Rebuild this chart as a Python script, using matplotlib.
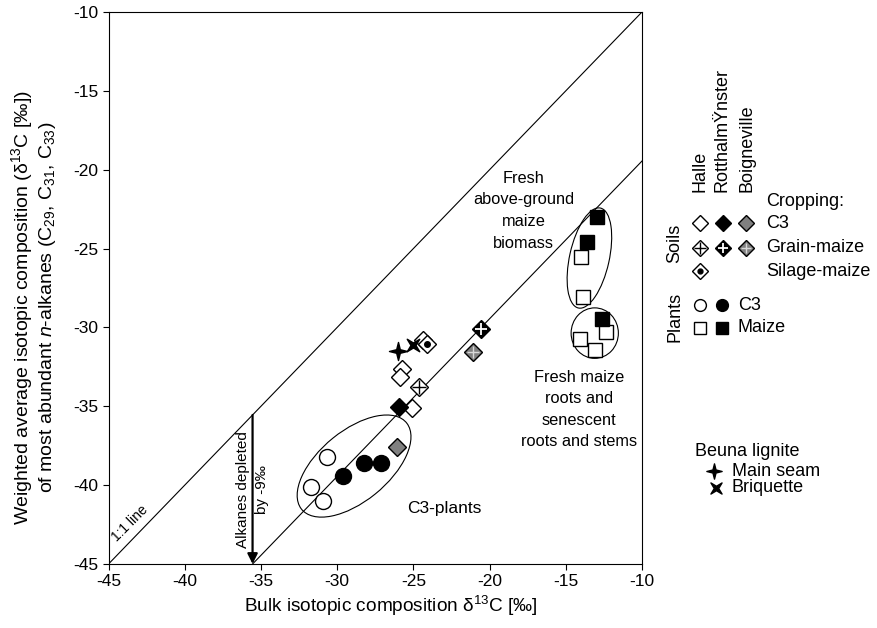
import matplotlib
matplotlib.use("Agg")
import matplotlib.pyplot as plt
from matplotlib.patches import Ellipse
from matplotlib.path import Path
import numpy as np

plt.rcParams['font.family'] = ['Liberation Sans', 'DejaVu Sans']
plt.rcParams['mathtext.fontset'] = 'custom'
plt.rcParams['mathtext.rm'] = 'Liberation Sans'
plt.rcParams['mathtext.it'] = 'Liberation Sans:italic'
plt.rcParams['axes.unicode_minus'] = False

# == data ==
halle_c3_x = [-25.07, -25.76, -25.87, -24.34]
halle_c3_y = [-35.13, -32.66, -33.17, -30.80]
halle_grain_x = [-24.61]
halle_grain_y = [-33.80]
halle_silage_x = [-24.12]
halle_silage_y = [-31.07]
rott_c3_x = [-25.94]
rott_c3_y = [-35.07]
rott_grain_x = [-20.58]
rott_grain_y = [-30.12]
boig_c3_x = [-26.09]
boig_c3_y = [-37.60]
boig_grain_x = [-21.06]
boig_grain_y = [-31.54]

plant_c3_open_x = [-30.68, -31.73, -30.91]
plant_c3_open_y = [-38.24, -40.14, -40.99]
plant_c3_fill_x = [-29.59, -28.23, -27.14]
plant_c3_fill_y = [-39.42, -38.62, -38.62]
maize_open_x = [-14.02, -13.89, -12.36, -14.06, -13.08]
maize_open_y = [-25.56, -28.09, -30.27, -30.75, -31.43]
maize_fill_x = [-12.97, -13.58, -12.64]
maize_fill_y = [-22.98, -24.57, -29.49]

seam_x, seam_y = [-25.98], [-31.48]
briq_x, briq_y = [-25.00], [-31.12]

offset = 9.45  # depletion line offset
gray = '#808080'

# 4-pointed star markers
a = 0.2
star_verts = [(0, 1), (a, a), (1, 0), (a, -a), (0, -1), (-a, -a), (-1, 0), (-a, a), (0, 1)]
star = Path(star_verts, closed=True)
ang = np.deg2rad(45)
rot = np.array([[np.cos(ang), -np.sin(ang)], [np.sin(ang), np.cos(ang)]])
xstar = Path([tuple(rot @ np.array(v)) for v in star_verts], closed=True)

fig = plt.figure(figsize=(8.78, 6.28), dpi=100)
ax = fig.add_axes([0.1236, 0.1019, 0.6076, 0.8790])
ax.set_xlim(-45, -10)
ax.set_ylim(-45, -10)
ax.set_xticks(np.arange(-45, -9, 5))
ax.set_yticks(np.arange(-45, -9, 5))
ax.tick_params(direction='out', length=4, width=0.8, labelsize=12.5, top=False, right=False)
for s in ax.spines.values():
    s.set_linewidth(0.8)

# 1:1 line and depleted line
ax.plot([-45, -10], [-45, -10], color='black', lw=0.8, zorder=1)
ax.plot([-45 + offset, -10], [-45, -10 - offset], color='black', lw=0.8, zorder=1)
ax.annotate('', xy=(-45 + offset, -45), xytext=(-45 + offset, -45 + offset),
            arrowprops=dict(arrowstyle='-|>,head_length=0.6,head_width=0.3', color='black', lw=1.6,
                            shrinkA=0, shrinkB=0), zorder=2)
ax.text(-43.6, -42.4, '1:1 line', rotation=45, fontsize=10, ha='center', va='center')
ax.text(-36.17, -40.3, 'Alkanes depleted', rotation=90, fontsize=11, ha='center', va='center')
ax.text(-34.95, -40.3, 'by -9‰', rotation=90, fontsize=11, ha='center', va='center')

# ellipses
ax.add_patch(Ellipse((-13.45, -25.6), 2.6, 6.5, angle=-13, fill=False, lw=0.8, zorder=1))
ax.add_patch(Ellipse((-13.1, -30.36), 3.1, 3.2, fill=False, lw=0.8, zorder=1))
ax.add_patch(Ellipse((-28.89, -38.79), 8.8, 4.5, angle=38, fill=False, lw=0.8, zorder=1))

ax.text(-17.75, -22.6, 'Fresh\nabove-ground\nmaize\nbiomass', fontsize=11.8, ha='center', va='center',
        linespacing=1.55)
ax.text(-14.15, -35.2, 'Fresh maize\nroots and\nsenescent\nroots and stems', fontsize=11.8, ha='center',
        va='center', linespacing=1.55)
ax.text(-23.0, -41.45, 'C3-plants', fontsize=12.5, ha='center', va='center')

dm = 9.5
pm = 10.0
mk = dict(linestyle='none', markeredgewidth=1.0, zorder=3)
# soils
ax.plot(halle_c3_x, halle_c3_y, 'D', ms=dm, mfc='white', mec='black', **mk)
ax.plot(halle_grain_x, halle_grain_y, 'D', ms=dm, mfc='white', mec='black', **mk)
ax.plot(halle_grain_x, halle_grain_y, '+', ms=pm, mec='black', **mk)
ax.plot(halle_silage_x, halle_silage_y, 'D', ms=dm, mfc='white', mec='black', **mk)
ax.plot(halle_silage_x, halle_silage_y, 'o', ms=4, mfc='black', mec='black', **mk)
ax.plot(rott_c3_x, rott_c3_y, 'D', ms=dm, mfc='black', mec='black', **mk)
ax.plot(rott_grain_x, rott_grain_y, 'D', ms=dm, mfc='black', mec='black', **mk)
ax.plot(rott_grain_x, rott_grain_y, '+', ms=pm * 0.85, mec='white', mew=1.3, linestyle='none', zorder=3)
ax.plot(boig_c3_x, boig_c3_y, 'D', ms=dm, mfc=gray, mec='black', **mk)
ax.plot(boig_grain_x, boig_grain_y, 'D', ms=dm, mfc=gray, mec='black', **mk)
ax.plot(boig_grain_x, boig_grain_y, '+', ms=pm * 0.85, mec='#d8d8d8', **mk)
# plants
ax.plot(plant_c3_open_x, plant_c3_open_y, 'o', ms=11.5, mfc='white', mec='black', **mk)
ax.plot(plant_c3_fill_x, plant_c3_fill_y, 'o', ms=11.5, mfc='black', mec='black', **mk)
ax.plot(maize_open_x, maize_open_y, 's', ms=10, mfc='white', mec='black', **mk)
ax.plot(maize_fill_x, maize_fill_y, 's', ms=10, mfc='black', mec='black', **mk)
# lignite
ax.plot(seam_x, seam_y, marker=star, ms=13, mfc='black', mec='black', **mk)
ax.plot(briq_x, briq_y, marker=xstar, ms=9, mfc='black', mec='black', **mk)

ax.set_xlabel('Bulk isotopic composition δ$^{13}$C [‰]', fontsize=13.7)
ax.xaxis.set_label_coords(0.53, -0.055)
ax.set_ylabel('Weighted average isotopic composition (δ$^{13}$C [‰])\n'
              'of most abundant $n$-alkanes (C$_{29}$, C$_{31}$, C$_{33}$)',
              fontsize=14, linespacing=1.15)
ax.yaxis.set_label_coords(-0.094, 0.465)

# == legend drawn in pixel space ==
lax = fig.add_axes([0, 0, 1, 1], zorder=5)
lax.set_xlim(0, 878)
lax.set_ylim(628, 0)
lax.axis('off')

fs = 13
for xc, name in [(700, 'Halle'), (722, 'RotthalmŸnster'), (747, 'Boigneville')]:
    lax.text(xc, 192, name, rotation=90, fontsize=fs, ha='center', va='bottom')
lax.text(766, 202, 'Cropping:', fontsize=fs, ha='left', va='center')
lax.text(675, 243, 'Soils', rotation=90, fontsize=fs, ha='center', va='center')
lax.text(675, 317, 'Plants', rotation=90, fontsize=fs, ha='center', va='center')

ldm = 8.3
lpm = 8.8
row = {'C3': 223, 'Grain-maize': 248, 'Silage-maize': 271}
for lbl, yy in row.items():
    lax.text(766, yy, lbl, fontsize=fs, ha='left', va='center')
lax.plot([700], [223], 'D', ms=ldm, mfc='white', mec='black', **mk)
lax.plot([723], [223], 'D', ms=ldm, mfc='black', mec='black', **mk)
lax.plot([746], [223], 'D', ms=ldm, mfc=gray, mec='black', **mk)
lax.plot([700], [248], 'D', ms=ldm, mfc='white', mec='black', **mk)
lax.plot([700], [248], '+', ms=lpm, mec='black', **mk)
lax.plot([723], [248], 'D', ms=ldm, mfc='black', mec='black', **mk)
lax.plot([723], [248], '+', ms=lpm * 0.85, mec='white', mew=1.3, linestyle='none', zorder=3)
lax.plot([746], [248], 'D', ms=ldm, mfc=gray, mec='black', **mk)
lax.plot([746], [248], '+', ms=lpm * 0.85, mec='#d8d8d8', **mk)
lax.plot([700], [271], 'D', ms=ldm, mfc='white', mec='black', **mk)
lax.plot([700], [271], 'o', ms=3.5, mfc='black', mec='black', **mk)

lax.plot([700], [305], 'o', ms=8.5, mfc='white', mec='black', **mk)
lax.plot([722], [305], 'o', ms=8.5, mfc='black', mec='black', **mk)
lax.text(738, 305, 'C3', fontsize=fs, ha='left', va='center')
lax.plot([700], [328], 's', ms=8, mfc='white', mec='black', **mk)
lax.plot([722], [328], 's', ms=8, mfc='black', mec='black', **mk)
lax.text(738, 328, 'Maize', fontsize=fs, ha='left', va='center')

lax.text(695, 452, 'Beuna lignite', fontsize=fs, ha='left', va='center')
lax.plot([714], [471], marker=star, ms=11, mfc='black', mec='black', **mk)
lax.text(732, 471, 'Main seam', fontsize=fs, ha='left', va='center')
lax.plot([716], [488], marker=xstar, ms=8, mfc='black', mec='black', **mk)
lax.text(732, 488, 'Briquette', fontsize=fs, ha='left', va='center')

fig.savefig('out.png', dpi=100)
